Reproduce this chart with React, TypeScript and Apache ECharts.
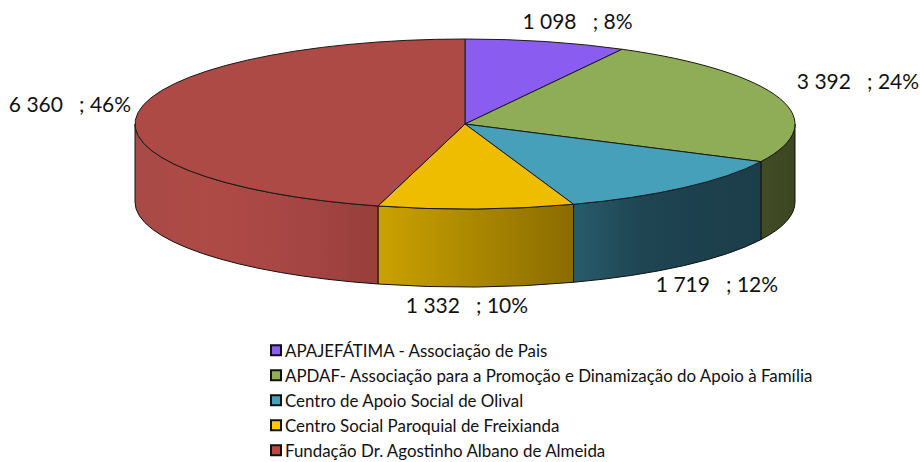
import React, { useEffect, useRef } from "react";
import * as echarts from "echarts";

const names = [
  "APAJEFÁTIMA - Associação de Pais",
  "APDAF- Associação para a Promoção e Dinamização do Apoio à Família",
  "Centro de Apoio Social de Olival",
  "Centro Social Paroquial de Freixianda",
  "Fundação Dr. Agostinho Albano de Almeida",
];
const values = [1098, 3392, 1719, 1332, 6360];
const valueLabels = ["1 098", "3 392", "1 719", "1 332", "6 360"];
const percentLabels = ["8%", "24%", "12%", "10%", "46%"];
const topColors = ["#8B5CF0", "#8FAD57", "#46A0BA", "#EEBD00", "#AE4A46"];
const legendColors = ["#8B5CF6", "#8FB050", "#46A0BA", "#FFC800", "#B84A46"];
const sideStops = [
  ["#4A3080", "#4A3080"],
  ["#414C25", "#3C4622"],
  ["#285C6C", "#1F4654", "#1D404D", "#1C3E4A"],
  ["#CBA200", "#8A6C00"],
  ["#A84A47", "#AE4A46", "#A64644", "#983E3B"],
];
const labelAnchors = [
  [577.5, 20],
  [858, 80],
  [717, 283],
  [467, 304],
  [70, 103],
];

const CX = 465;
const CY = 124;
const RX = 330;
const RY = 85;
const DEPTH = 78;
const total = values.reduce((a, b) => a + b, 0);

const px = (t: number) => CX + RX * Math.sin(t);
const py = (t: number, dy = 0) => CY - RY * Math.cos(t) + dy;
const arc = (t1: number, dy: number, sweep: number, span: number) =>
  `A${RX} ${RY} 0 ${span > Math.PI ? 1 : 0} ${sweep} ${px(t1)} ${py(t1, dy)}`;

function anglesFor(i: number) {
  const before = values.slice(0, i).reduce((a, b) => a + b, 0);
  return [(before / total) * 2 * Math.PI, ((before + values[i]) / total) * 2 * Math.PI];
}

function makeItem(i: number) {
  return () => {
    const [a0, a1] = anglesFor(i);
    const children: any[] = [];
    const s0 = Math.max(a0, Math.PI / 2);
    const s1 = Math.min(a1, (3 * Math.PI) / 2);
    if (s1 > s0) {
      const stops = sideStops[i];
      const d =
        `M${px(s0)} ${py(s0)}` +
        arc(s1, 0, 1, s1 - s0) +
        `L${px(s1)} ${py(s1, DEPTH)}` +
        arc(s0, DEPTH, 0, s1 - s0) +
        "Z";
      children.push({
        type: "path",
        z2: 1,
        shape: { pathData: d },
        style: {
          fill: {
            type: "linear", x: 0, y: 0, x2: 1, y2: 0,
            colorStops: stops.map((color, k) => ({ offset: k / (stops.length - 1), color })),
          },
          stroke: "#111",
          lineWidth: 1,
        },
      });
    }
    children.push({
      type: "path",
      z2: 2,
      shape: {
        pathData: `M${CX} ${CY}L${px(a0)} ${py(a0)}` + arc(a1, 0, 1, a1 - a0) + "Z",
      },
      style: { fill: topColors[i], stroke: "#1a1a1a", lineWidth: 1, lineJoin: "round" },
    });
    children.push({
      type: "text",
      z2: 3,
      style: {
        text: `${valueLabels[i]}   ; ${percentLabels[i]}`,
        x: labelAnchors[i][0],
        y: labelAnchors[i][1],
        align: "center",
        verticalAlign: "middle",
        font: "21px Lato, sans-serif",
        fill: "#111",
      },
    });
    return { type: "group", children };
  };
}

export default function App() {
  const ref = useRef<HTMLDivElement>(null);
  useEffect(() => {
    const chart = echarts.init(ref.current!, null, { renderer: "svg" });
    chart.setOption({
      animation: false,
      backgroundColor: "#fff",
      legend: {
        orient: "vertical",
        left: 270,
        top: 341,
        itemWidth: 10,
        itemHeight: 10,
        itemGap: 6.5,
        selectedMode: false,
        icon: "rect",
        padding: 0,
        data: names,
        textStyle: { fontFamily: "Lato, sans-serif", fontSize: 16.9, color: "#111", padding: [0, 0, 0, -1], lineHeight: 18.5 },
      },
      series: names.map((name, i) => ({
        type: "custom",
        name,
        coordinateSystem: "none",
        itemStyle: { color: legendColors[i], borderColor: "#111", borderWidth: 2 },
        data: [values[i]],
        renderItem: makeItem(i),
      })),
    });
    return () => chart.dispose();
  }, []);
  return <div ref={ref} style={{ position: "absolute", left: 0, top: 0, width: 920, height: 462 }} />;
}
